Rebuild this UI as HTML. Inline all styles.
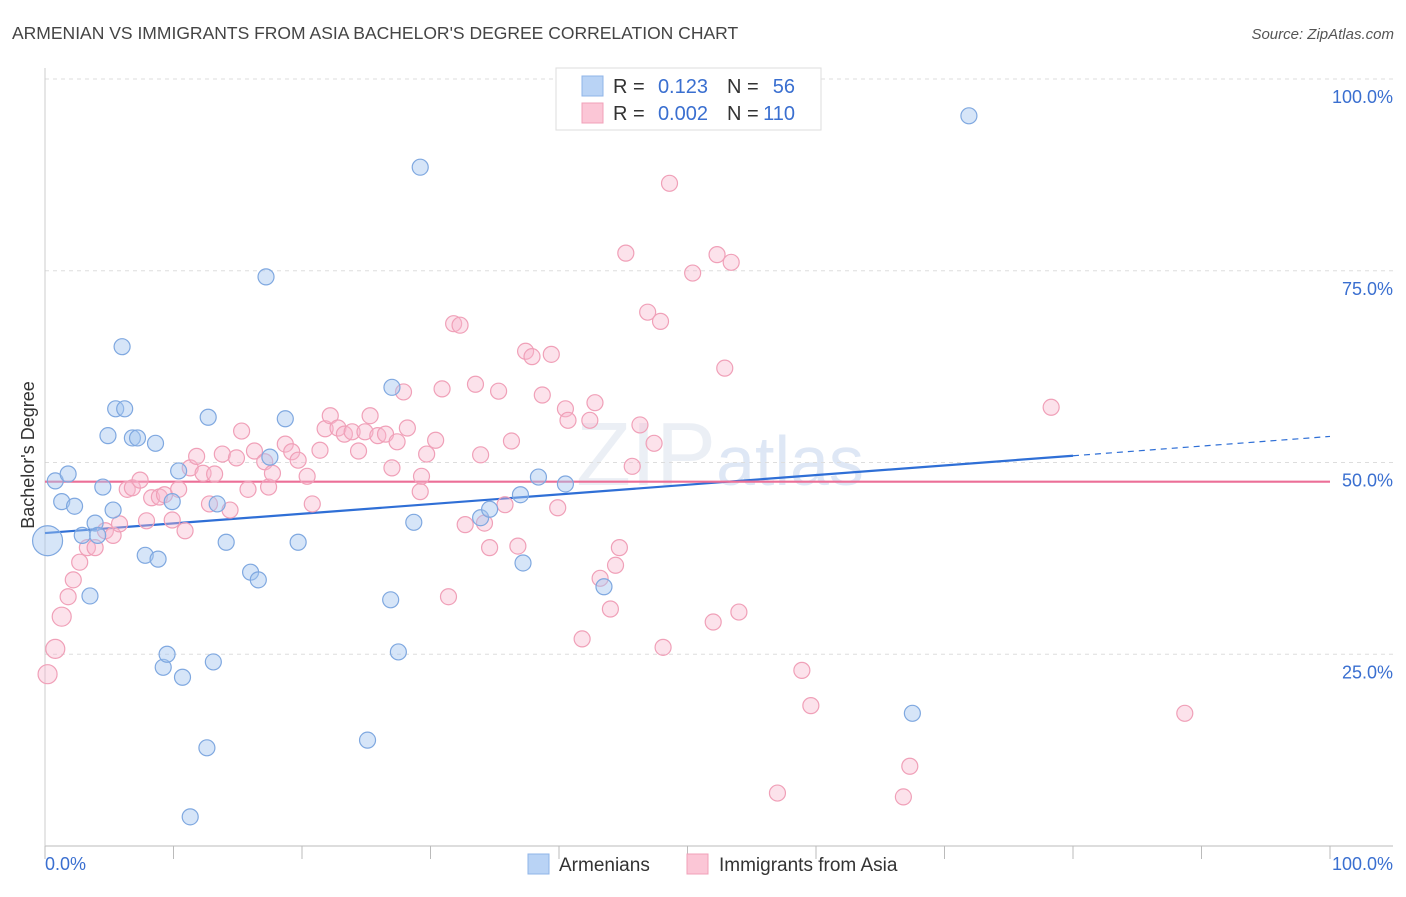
<!DOCTYPE html>
<html><head><meta charset="utf-8"><style>
body{margin:0;background:#fff;font-family:"Liberation Sans",sans-serif;}
svg text{font-family:"Liberation Sans",sans-serif;}
</style></head><body>
<svg id="chart" width="1406" height="892" xmlns="http://www.w3.org/2000/svg">
<text x="12" y="39" font-size="17.5" fill="#444">ARMENIAN VS IMMIGRANTS FROM ASIA BACHELOR'S DEGREE CORRELATION CHART</text>
<text x="1394" y="39" font-size="15" fill="#555" font-style="italic" text-anchor="end">Source: ZipAtlas.com</text>
<text x="720" y="485" font-size="90" fill="#dfe6ef" text-anchor="middle" font-family="Liberation Serif" opacity="0.6">ZIP<tspan fill="#c9d8f0" font-family="Liberation Sans" font-size="70">atlas</tspan></text>
<g id="grid"></g>
<g id="axes"></g>
<g id="trend"></g>
<g id="points"></g>
<text transform="translate(34,455) rotate(-90)" font-size="18" fill="#333" text-anchor="middle">Bachelor's Degree</text>
<g>
<rect x="556" y="68" width="265" height="62" fill="#fff" stroke="#ddd"/>
<rect x="582" y="76" width="21" height="20" fill="#b9d3f5" stroke="#8fb4e8"/>
<rect x="582" y="103" width="21" height="20" fill="#fbc6d6" stroke="#f0a0b8"/>
<text x="613" y="93" font-size="20" fill="#333">R =</text>
<text x="708" y="93" font-size="20" fill="#3a6fd0" text-anchor="end">0.123</text>
<text x="727" y="93" font-size="20" fill="#333">N =</text>
<text x="795" y="93" font-size="20" fill="#3a6fd0" text-anchor="end">56</text>
<text x="613" y="120" font-size="20" fill="#333">R =</text>
<text x="708" y="120" font-size="20" fill="#3a6fd0" text-anchor="end">0.002</text>
<text x="727" y="120" font-size="20" fill="#333">N =</text>
<text x="795" y="120" font-size="20" fill="#3a6fd0" text-anchor="end">110</text>
</g>
<g>
<rect x="528" y="854" width="21" height="20" fill="#b9d3f5" stroke="#8fb4e8"/>
<text x="559" y="871" font-size="19" fill="#333">Armenians</text>
<rect x="687" y="854" width="21" height="20" fill="#fbc6d6" stroke="#f0a0b8"/>
<text x="719" y="871" font-size="19" fill="#333">Immigrants from Asia</text>
</g>
</svg>
<script>
const blueX=[0.2,0.8,1.3,1.8,2.3,2.9,3.5,3.9,4.1,4.5,4.9,5.3,5.5,6.0,6.2,6.8,7.2,7.8,8.6,8.8,9.2,9.5,9.9,10.4,10.7,11.3,12.6,12.7,13.1,13.4,14.1,16.0,16.6,17.2,17.5,18.7,19.7,25.1,26.9,27.0,27.5,28.7,29.2,33.9,34.6,37.0,37.2,38.4,40.5,43.5,67.5,71.9];
const blueY=[39.8,47.6,44.9,48.5,44.3,40.5,32.6,42.1,40.5,46.8,53.5,43.8,57.0,65.1,57.0,53.2,53.2,37.9,52.5,37.4,23.3,25.0,44.9,48.9,22.0,3.8,12.8,55.9,24.0,44.6,39.6,35.7,34.7,74.2,50.7,55.7,39.6,13.8,32.1,59.8,25.3,42.2,88.5,42.8,43.9,45.8,36.9,48.1,47.2,33.8,17.3,95.2];
const pinkX=[0.2,0.8,1.3,1.8,2.2,2.7,3.3,3.9,4.7,5.3,5.8,6.4,6.8,7.4,7.9,8.3,8.9,9.3,9.9,10.4,10.9,11.3,11.8,12.3,12.8,13.2,13.8,14.4,14.9,15.3,15.8,16.3,17.1,17.4,17.7,18.7,19.2,19.7,20.4,20.8,21.4,21.8,22.2,22.8,23.3,23.9,24.4,24.9,25.3,25.9,26.5,27.0,27.4,27.9,28.2,29.2,29.3,29.7,30.4,30.9,31.4,31.8,32.3,32.7,33.5,33.9,34.2,34.6,35.3,35.8,36.3,36.8,37.4,37.9,38.7,39.4,39.9,40.5,40.7,41.8,42.4,42.8,43.2,44.0,44.4,44.7,45.2,45.7,46.3,46.9,47.4,47.9,48.1,48.6,50.4,52.0,52.3,52.9,53.4,54.0,58.9,59.6,57.0,66.8,67.3,78.3,88.7];
const pinkY=[22.4,25.7,29.9,32.5,34.7,37.0,38.9,38.9,41.1,40.5,42.0,46.5,46.7,47.7,42.4,45.4,45.5,45.8,42.5,46.5,41.1,49.3,50.8,48.6,44.6,48.5,51.1,43.8,50.6,54.1,46.5,51.5,50.1,46.8,48.6,52.4,51.4,50.3,48.2,44.6,51.6,54.4,56.1,54.5,53.7,54.0,51.5,54.0,56.1,53.5,53.7,49.3,52.7,59.2,54.5,46.2,48.2,51.1,52.9,59.6,32.5,68.1,67.9,41.9,60.2,51.0,42.1,38.9,59.3,44.5,52.8,39.1,64.5,63.8,58.8,64.1,44.1,57.0,55.5,27.0,55.5,57.8,34.9,30.9,36.6,38.9,77.3,49.5,54.9,69.6,52.5,68.4,25.9,86.4,74.7,29.2,77.1,62.3,76.1,30.5,22.9,18.3,6.9,6.4,10.4,57.2,17.3];
const yTicks=[25,50,75,100];
const yTickLabels=["25.0%","50.0%","75.0%","100.0%"];
const xTicks=[0,10,20,30,40,50,60,70,80,90,100];
const blueTrend=[40.8,0.126]; // intercept, slope
const pinkTrend=[47.5,0.0];
const NS="http://www.w3.org/2000/svg";
const X0=45,X1=1330,Y0=846,Y1=79;
const sx=v=>X0+(X1-X0)*v/100;
const sy=v=>Y0-(Y0-Y1)*v/100;
function mk(tag,attrs,parent){const e=document.createElementNS(NS,tag);for(const k in attrs)e.setAttribute(k,attrs[k]);document.getElementById(parent).appendChild(e);return e;}
yTicks.forEach((t,i)=>{
 const g=mk('line',{x1:X0,x2:1393,y1:sy(t),y2:sy(t),stroke:'#ddd','stroke-dasharray':'4,4'},'grid');
 
 
 const l=mk('text',{x:1393,y:sy(t)+24,'font-size':18,fill:'#3a6fd0','text-anchor':'end'},'grid');
 l.textContent=yTickLabels[i];
 
 
});
const ax=mk('line',{x1:X0,x2:1393,y1:Y0,y2:Y0,stroke:'#bbb'},'axes');


const ay=mk('line',{x1:X0,x2:X0,y1:68,y2:Y0,stroke:'#ccc'},'axes');


xTicks.forEach(t=>{
 const k=mk('line',{x1:sx(t),x2:sx(t),y1:Y0,y2:Y0+13,stroke:'#bbb'},'axes');
 
 
});
const xl0=mk('text',{x:X0,y:870,'font-size':18,fill:'#3a6fd0'},'axes');xl0.textContent='0.0%';


const xl1=mk('text',{x:1393,y:870,'font-size':18,fill:'#3a6fd0','text-anchor':'end'},'axes');xl1.textContent='100.0%';


pinkX.forEach((x,i)=>{
 const c=mk('circle',{cx:sx(x),cy:sy(pinkY[i]),r:i<3?9.5:8,fill:'rgba(248,182,204,0.4)',stroke:'#f0a0b8','stroke-width':1.2},'points');
 
 
});
blueX.forEach((x,i)=>{
 const c=mk('circle',{cx:sx(x),cy:sy(blueY[i]),r:i===0?15:8,fill:'rgba(165,198,240,0.45)',stroke:'#7fa8e0','stroke-width':1.2},'points');
 
 
});
const bt=mk('line',{x1:sx(0),y1:sy(blueTrend[0]),x2:sx(80),y2:sy(blueTrend[0]+blueTrend[1]*80),stroke:'#2f6fd6','stroke-width':2.2},'trend');


const bd=mk('line',{x1:sx(80),y1:sy(blueTrend[0]+blueTrend[1]*80),x2:sx(100),y2:sy(blueTrend[0]+blueTrend[1]*100),stroke:'#2f6fd6','stroke-width':1.2,'stroke-dasharray':'6,5'},'trend');


const pt=mk('line',{x1:sx(0),y1:sy(pinkTrend[0]),x2:sx(100),y2:sy(pinkTrend[0]+pinkTrend[1]*100),stroke:'#ec6f97','stroke-width':2.2},'trend');


</script>
</body></html>
